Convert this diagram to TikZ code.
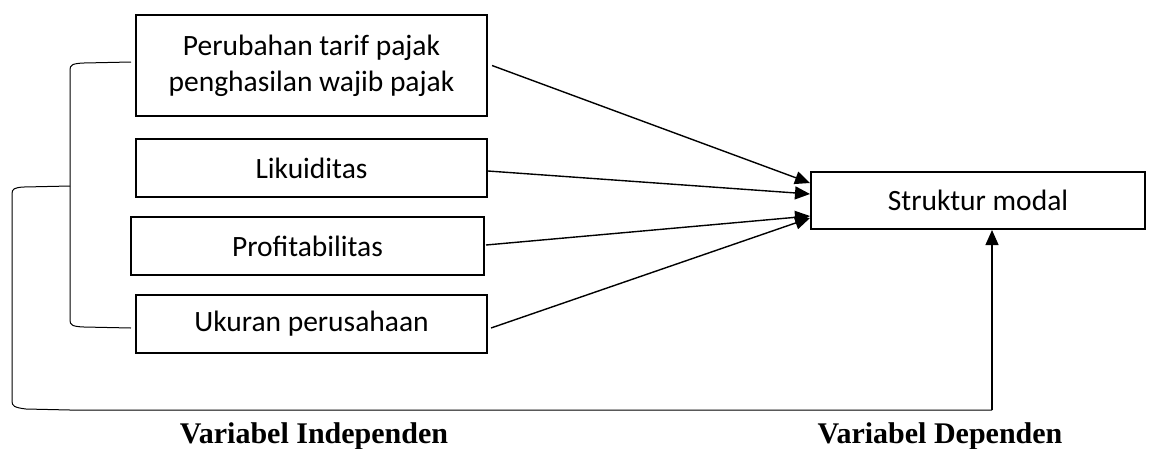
\documentclass[tikz,border=0pt]{standalone}
\usepackage{fontspec}
\setmainfont{Carlito}
\newfontfamily\lblfont{Liberation Serif}
\usetikzlibrary{arrows.meta,calc}
\begin{document}
\begin{tikzpicture}[x=1pt,y=-1pt,
  varbox/.style={draw,line width=2pt,minimum height=58pt,inner sep=0pt,align=center,
    font=\fontsize{29.5}{36}\selectfont},
  arr/.style={line width=1.4pt,-{Triangle[length=15pt,width=13pt]}},
  brk/.style={line width=1pt},
  lbl/.style={anchor=base,font=\lblfont\bfseries\fontsize{30}{36}\selectfont}]
\useasboundingbox (0,0) rectangle (1150,448);
\node[varbox,minimum width=351pt,minimum height=101pt] (b1) at (311.5,65.5) {Perubahan tarif pajak\\penghasilan wajib pajak};
\node[varbox,minimum width=351pt] (b2) at (311.5,168) {Likuiditas};
\node[varbox,minimum width=353pt] (b3) at (307.5,246) {Profitabilitas};
\node[varbox,minimum width=351pt] (b4) at (311.5,324) {Ukuran perusahaan};
\node[varbox,minimum width=334pt,minimum height=57pt] (s) at (978,200.5) {Struktur modal};
% arrow endpoints
\coordinate (e1) at ($(s.north west)+(0,12)$);
\coordinate (e2) at ($(s.north west)+(0,23)$);
\coordinate (e3) at ($(s.north west)+(0,45)$);
\coordinate (e4) at ($(s.north west)+(0,47)$);
\draw[arr] ($(b1.east)+(4,0)$) -- (e1);
\draw[arr] ($(b2.east)+(0,3)$) -- (e2);
\draw[arr] ($(b3.east)+(1,-1)$) -- (e3);
\draw[arr] ($(b4.east)+(3,4)$) -- (e4);
% brackets
\coordinate (bt) at (131,62);
\coordinate (bb) at (131,328);
\coordinate (bm) at (70,186);
\coordinate (bend) at (992,410);
\draw[brk] (bt) -- (84,63) .. controls (72,63.5) and (70,65) .. (70,70) -- (70,320)
  .. controls (70,325) and (72,326.5) .. (84,327) -- (bb);
\draw[brk] (bm) -- (24,187) .. controls (14,187.5) and (12,189) .. (12,194) -- (12,401)
  .. controls (12,406) and (14,407.5) .. (26,409) -- (70,410) -- (bend);
\draw[arr,line width=1.2pt] (bend) -- (s.south -| bend);
\node[lbl] (li) at (314,443) {Variabel Independen};
\node[lbl] (ld) at (940,443) {Variabel Dependen};
\end{tikzpicture}
\end{document}
